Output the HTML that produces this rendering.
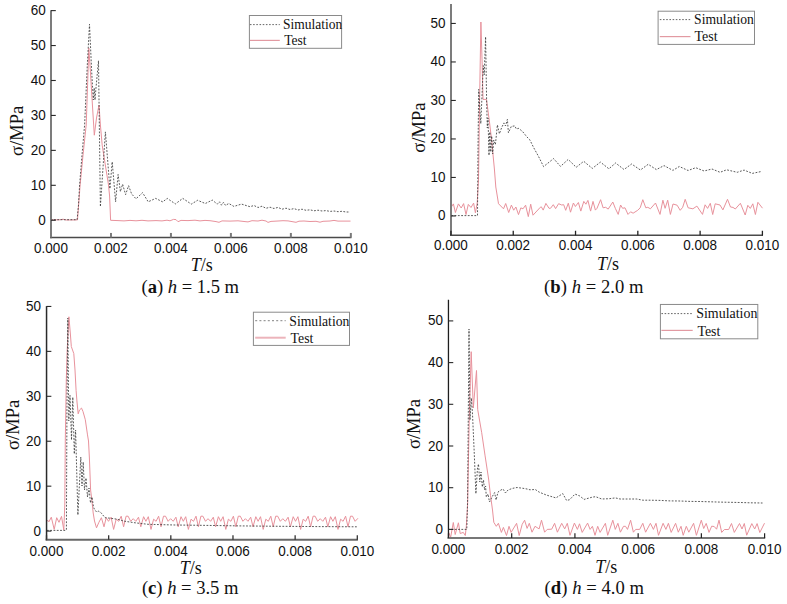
<!DOCTYPE html>
<html><head><meta charset="utf-8"><title>Stress vs time</title>
<style>
html,body{margin:0;padding:0;background:#fff;}
body{width:787px;height:604px;overflow:hidden;}
svg{display:block;}
.tk{font-family:"Liberation Sans",sans-serif;font-size:13.5px;fill:#111;}
.sf{font-family:"Liberation Serif",serif;font-size:18px;fill:#111;}
.cap{font-size:18.6px;}
.yt{font-size:18.5px;}
.lg{font-family:"Liberation Serif",serif;font-size:13.6px;fill:#111;}
</style></head>
<body>
<svg width="787" height="604" viewBox="0 0 787 604">
<rect width="787" height="604" fill="#fff"/>
<g>
<path d="M50.7 219.9 L60 219.8 L63 219.2 L66 220 L77.5 219.9 L78.6 205 L80.1 185 L83 155 L86.2 125 L87.6 85 L88.8 48 L90.3 70 L92.3 103 L94.3 135.2 L96.5 118 L99 105 L100.4 125 L102.2 145.3 L105 163 L108.5 185 L109.6 196 L110.6 220.3 L118 220.6 L124 220.9 L130 220.4 L136 220.8 L142 220.3 L148 220.9 L156 220.6 L162 220.9 L167 220.2 L170 220.8 L173.5 219.4 L176 219.6 L178 221.7 L181 220.4 L188 220.6 L195 220.2 L200 220.9 L205 220.4 L210 220.7 L216 221.6 L219 222.3 L222 220.9 L230 221.1 L238 220.8 L245 221.6 L248 221.9 L252 220.7 L258 221 L262 220.2 L266 221 L268 222.4 L271 221.4 L278 221 L283 220.7 L288 220.9 L292 221.6 L296 222.3 L299 221.2 L304 221 L310 221.5 L316 221.3 L320 222.2 L323 221.3 L330 221 L334 220.4 L338 221.1 L344 221.1 L350.5 221.1" fill="none" stroke="#e8929c" stroke-width="1" stroke-linejoin="round"/>
<path d="M50.7 219.7 L77.1 219.7 L78.5 205 L79.6 185 L82 155 L84.6 125 L87.3 65 L89.5 24.3 L91.6 70 L93.3 100 L94.2 88 L95 100 L95.8 90 L98.5 60.7 L100.4 206.6 L105.4 131.9 L109.9 188.7 L112.2 161.8 L115.6 201.8 L118.1 174.5 L120.4 191.6 L122.6 184.2 L125.6 194.6 L128.6 185.7 L131.6 193.9 L136 198.8 L142.6 192.7 L148.2 201.8 L155.7 198.4 L162.7 201.9 L167.2 198.4 L175.4 203.9 L182.8 198.4 L191.3 204.1 L197.6 200.3 L205.3 203.5 L212.3 200.1 L217.3 204.1 L219.5 201.8 L221.5 205.2 L223.5 202.3 L225.5 205.4 L228.8 203.5 L233.9 206.4 L241.5 204.1 L250 206.7 L254 205.5 L258 207.5 L262 206.2 L266 208.3 L270 207.2 L274 208.5 L278 207.4 L282 209.2 L286 208.2 L290 209.5 L294 208.6 L298 210 L302 209.2 L306 210.3 L310 209.8 L314 210.8 L318 210.2 L322 211 L326 210.6 L330 211.4 L334 211 L338 211.7 L342 211.3 L346 212 L350 212" fill="none" stroke="#3c3c3c" stroke-width="0.85" stroke-dasharray="1.8 1.5"/>
</g>
<line x1="51" y1="10.31" x2="51" y2="238.15" stroke="#7c7c7c" stroke-width="2.0"/>
<line x1="50.1" y1="237.55" x2="351.45" y2="237.55" stroke="#4a4a4a" stroke-width="1.4"/>
<line x1="51" y1="220.25" x2="55.8" y2="220.25" stroke="#2a2a2a" stroke-width="1.1"/>
<text class="tk" text-anchor="end" transform="translate(45.8 224.75) scale(1 1.08)">0</text>
<line x1="51" y1="185.31" x2="55.8" y2="185.31" stroke="#2a2a2a" stroke-width="1.1"/>
<text class="tk" text-anchor="end" transform="translate(45.8 189.81) scale(1 1.08)">10</text>
<line x1="51" y1="150.37" x2="55.8" y2="150.37" stroke="#2a2a2a" stroke-width="1.1"/>
<text class="tk" text-anchor="end" transform="translate(45.8 154.87) scale(1 1.08)">20</text>
<line x1="51" y1="115.43" x2="55.8" y2="115.43" stroke="#2a2a2a" stroke-width="1.1"/>
<text class="tk" text-anchor="end" transform="translate(45.8 119.93) scale(1 1.08)">30</text>
<line x1="51" y1="80.49" x2="55.8" y2="80.49" stroke="#2a2a2a" stroke-width="1.1"/>
<text class="tk" text-anchor="end" transform="translate(45.8 84.99) scale(1 1.08)">40</text>
<line x1="51" y1="45.55" x2="55.8" y2="45.55" stroke="#2a2a2a" stroke-width="1.1"/>
<text class="tk" text-anchor="end" transform="translate(45.8 50.05) scale(1 1.08)">50</text>
<line x1="51" y1="10.61" x2="55.8" y2="10.61" stroke="#2a2a2a" stroke-width="1.1"/>
<text class="tk" text-anchor="end" transform="translate(45.8 15.11) scale(1 1.08)">60</text>
<line x1="51" y1="232.95" x2="51" y2="237.55" stroke="#7a7a7a" stroke-width="2.0"/>
<text class="tk" text-anchor="middle" transform="translate(51 252.8) scale(1 1.08)">0.000</text>
<line x1="110.97" y1="232.95" x2="110.97" y2="237.55" stroke="#7a7a7a" stroke-width="2.0"/>
<text class="tk" text-anchor="middle" transform="translate(110.97 252.8) scale(1 1.08)">0.002</text>
<line x1="170.94" y1="232.95" x2="170.94" y2="237.55" stroke="#7a7a7a" stroke-width="2.0"/>
<text class="tk" text-anchor="middle" transform="translate(170.94 252.8) scale(1 1.08)">0.004</text>
<line x1="230.91" y1="232.95" x2="230.91" y2="237.55" stroke="#7a7a7a" stroke-width="2.0"/>
<text class="tk" text-anchor="middle" transform="translate(230.91 252.8) scale(1 1.08)">0.006</text>
<line x1="290.88" y1="232.95" x2="290.88" y2="237.55" stroke="#7a7a7a" stroke-width="2.0"/>
<text class="tk" text-anchor="middle" transform="translate(290.88 252.8) scale(1 1.08)">0.008</text>
<line x1="350.85" y1="232.95" x2="350.85" y2="237.55" stroke="#7a7a7a" stroke-width="2.0"/>
<text class="tk" text-anchor="middle" transform="translate(350.85 252.8) scale(1 1.08)">0.010</text>
<text class="sf yt" x="0" y="0" text-anchor="middle" transform="translate(22.7 130.9) rotate(-90)">&#963;/MPa</text>
<text class="sf" x="201.8" y="270.9" text-anchor="middle"><tspan font-style="italic">T</tspan>/s</text>
<text class="sf cap" x="190.3" y="292.9" text-anchor="middle" textLength="97.5" lengthAdjust="spacing">(<tspan font-weight="bold">a</tspan>) <tspan font-style="italic">h</tspan> = 1.5 m</text>
<rect x="249.4" y="15.5" width="92.2" height="32.8" fill="#fff" stroke="#8a8a8a" stroke-width="1"/>
<line x1="249.9" y1="24.6" x2="279.8" y2="24.6" stroke="#666" stroke-width="1" stroke-dasharray="1.6 1.6"/>
<line x1="249.9" y1="40.4" x2="279.8" y2="40.4" stroke="#e29aa2" stroke-width="1.2"/>
<text class="lg" x="283.1" y="28.5" textLength="59.2" lengthAdjust="spacingAndGlyphs">Simulation</text>
<text class="lg" x="284.2" y="44.6" textLength="22.4" lengthAdjust="spacingAndGlyphs">Test</text>
<g>
<path d="M451.3 207 L453.4 203.9 L455.4 212.5 L458.4 203.9 L461.2 208 L463.6 203.6 L466 214.5 L468.3 204.4 L471 207.5 L473.6 203.1 L475.4 212.8 L477.2 203 L478.5 180 L479.6 100 L480.9 22 L482.2 65 L483 99.4 L486.5 99.4 L489.6 123 L491.6 140 L494.4 169 L495.8 187 L498.5 203.7 L503.5 208.8 L505.7 203.5 L508.7 212.5 L511.4 205.1 L513.7 210.2 L515.9 207 L518.5 214.6 L520.8 207.9 L523 208.8 L525.6 205.2 L528.3 216.6 L530.7 204.2 L533 215.2 L540.3 207.3 L541.3 206.8 L543.2 210.1 L545.9 203.4 L549 208.3 L550.5 208.3 L553.3 204.7 L555.6 208.6 L558.6 203.7 L561.7 205 L563.7 204.7 L565.7 210.3 L568.3 203.2 L570.5 212.2 L573.4 203 L575.4 206.5 L578.4 202.5 L580.8 211.1 L583.8 201.4 L585.9 204.2 L587.9 200.4 L590.6 211.1 L593 201.4 L595.4 210.1 L597 208.3 L600.6 199.7 L603.1 207.8 L605.7 207.3 L608.2 209.1 L612.8 202 L615.3 208.3 L618.2 214.4 L620.6 205 L622.6 208.3 L625 207.8 L628 214.4 L630.6 211.8 L633.1 213.2 L637.7 210.3 L640.2 207.8 L642.8 199.7 L645.8 207.8 L647.8 207.3 L650.4 208.8 L655.5 203 L660 214.4 L662.9 200.2 L665.1 208.3 L667.7 200.2 L670.4 214.4 L673 204 L677.1 205.2 L680.2 210.3 L682.7 207.3 L685.2 199.3 L688.1 207.8 L692.9 208.8 L696.9 206.1 L702.5 214.4 L705.1 204.8 L707.6 208.4 L710.3 203.3 L712.7 214.5 L715.2 203.8 L720 205 L722.9 209.9 L727.5 199.3 L730.5 207 L733 207.4 L735.3 209 L740.4 203.3 L745.2 215 L747.8 205.3 L750.3 208.4 L752.8 203.8 L755.4 214.5 L757.9 202.3 L762.5 208.2" fill="none" stroke="#e8929c" stroke-width="1" stroke-linejoin="round"/>
<path d="M451.3 215.6 L477.5 215.6 L478 150 L478.7 89.4 L480.8 123.7 L483.3 65.6 L484.2 75 L485.6 36.8 L486.6 99.5 L487.3 128 L488 118 L489 155.4 L489.8 132 L490.8 152 L491.7 136 L492.7 154 L493.7 140 L495.4 144.6 L497.4 124.9 L499.4 133.8 L501.5 128 L503.9 122.9 L505.5 126 L507.4 119.4 L508.4 132.8 L511.3 126.4 L514.8 125.9 L516.3 128.9 L518.8 128.4 L522.8 131.8 L526.8 136.8 L529.8 139.8 L533.7 147.7 L538.6 156.6 L543.6 166.6 L553.6 158.6 L560.5 166.4 L568.2 159.4 L576.2 167.3 L583.7 161.3 L592.3 168.4 L600.4 162.1 L608.9 168.8 L615.6 163 L624 169.5 L631.6 164 L640.4 170 L648.2 164.3 L656.4 169.6 L664 165.6 L672.9 170.4 L679.3 166.5 L688.1 170.5 L695.7 167.7 L704.1 171 L712 169 L720.1 172.3 L726.6 169.8 L737.2 172.3 L744.1 170.1 L752.3 173.4 L761.8 171.4" fill="none" stroke="#3c3c3c" stroke-width="0.85" stroke-dasharray="1.8 1.5"/>
</g>
<line x1="451" y1="3.9" x2="451" y2="235.95" stroke="#7c7c7c" stroke-width="2.0"/>
<line x1="450.1" y1="235.35" x2="763" y2="235.35" stroke="#4a4a4a" stroke-width="1.5"/>
<line x1="451" y1="215.95" x2="455.8" y2="215.95" stroke="#2a2a2a" stroke-width="1.1"/>
<text class="tk" text-anchor="end" transform="translate(445.6 220.45) scale(1 1.08)">0</text>
<line x1="451" y1="177.45" x2="455.8" y2="177.45" stroke="#2a2a2a" stroke-width="1.1"/>
<text class="tk" text-anchor="end" transform="translate(445.6 181.95) scale(1 1.08)">10</text>
<line x1="451" y1="138.95" x2="455.8" y2="138.95" stroke="#2a2a2a" stroke-width="1.1"/>
<text class="tk" text-anchor="end" transform="translate(445.6 143.45) scale(1 1.08)">20</text>
<line x1="451" y1="100.45" x2="455.8" y2="100.45" stroke="#2a2a2a" stroke-width="1.1"/>
<text class="tk" text-anchor="end" transform="translate(445.6 104.95) scale(1 1.08)">30</text>
<line x1="451" y1="61.95" x2="455.8" y2="61.95" stroke="#2a2a2a" stroke-width="1.1"/>
<text class="tk" text-anchor="end" transform="translate(445.6 66.45) scale(1 1.08)">40</text>
<line x1="451" y1="23.45" x2="455.8" y2="23.45" stroke="#2a2a2a" stroke-width="1.1"/>
<text class="tk" text-anchor="end" transform="translate(445.6 27.95) scale(1 1.08)">50</text>
<line x1="450.95" y1="230.75" x2="450.95" y2="235.35" stroke="#222" stroke-width="1.3"/>
<text class="tk" text-anchor="middle" transform="translate(450.95 250.3) scale(1 1.08)">0.000</text>
<line x1="513.24" y1="230.75" x2="513.24" y2="235.35" stroke="#222" stroke-width="1.3"/>
<text class="tk" text-anchor="middle" transform="translate(513.24 250.3) scale(1 1.08)">0.002</text>
<line x1="575.53" y1="230.75" x2="575.53" y2="235.35" stroke="#222" stroke-width="1.3"/>
<text class="tk" text-anchor="middle" transform="translate(575.53 250.3) scale(1 1.08)">0.004</text>
<line x1="637.82" y1="230.75" x2="637.82" y2="235.35" stroke="#222" stroke-width="1.3"/>
<text class="tk" text-anchor="middle" transform="translate(637.82 250.3) scale(1 1.08)">0.006</text>
<line x1="700.11" y1="230.75" x2="700.11" y2="235.35" stroke="#222" stroke-width="1.3"/>
<text class="tk" text-anchor="middle" transform="translate(700.11 250.3) scale(1 1.08)">0.008</text>
<line x1="762.4" y1="230.75" x2="762.4" y2="235.35" stroke="#222" stroke-width="1.3"/>
<text class="tk" text-anchor="middle" transform="translate(762.4 250.3) scale(1 1.08)">0.010</text>
<text class="sf yt" x="0" y="0" text-anchor="middle" transform="translate(424.6 127.6) rotate(-90)">&#963;/MPa</text>
<text class="sf" x="608" y="270" text-anchor="middle"><tspan font-style="italic">T</tspan>/s</text>
<text class="sf cap" x="593.8" y="292.7" text-anchor="middle" textLength="99.4" lengthAdjust="spacing">(<tspan font-weight="bold">b</tspan>) <tspan font-style="italic">h</tspan> = 2.0 m</text>
<rect x="658.1" y="11.2" width="96.4" height="33.2" fill="#fff" stroke="#8a8a8a" stroke-width="1"/>
<line x1="659.8" y1="19.6" x2="690.5" y2="19.6" stroke="#666" stroke-width="1" stroke-dasharray="1.6 1.6"/>
<line x1="659.8" y1="36.6" x2="690.5" y2="36.6" stroke="#e29aa2" stroke-width="1.2"/>
<text class="lg" x="694.1" y="24.3" textLength="59.8" lengthAdjust="spacingAndGlyphs">Simulation</text>
<text class="lg" x="694.5" y="40.9" textLength="23.2" lengthAdjust="spacingAndGlyphs">Test</text>
<g>
<path d="M46.9 521.5 L47.6 520.2 L48.9 521.8 L51.3 517.2 L54.2 529.4 L56.7 517.7 L59 522.3 L61.5 516.4 L63.8 529.9 L64.8 505 L65.3 440 L66.3 380 L67.2 350 L68.9 316.8 L70.3 333 L71.3 346.5 L73.8 353.6 L75 370 L76.1 390.6 L77 402 L78.2 413.8 L79.5 410 L81.5 408.1 L83 411.5 L85.3 419.7 L87.5 434.9 L88.5 441 L89.4 458 L90.6 490 L91.7 498.6 L93.2 513 L94.5 521 L96.5 527.8 L98.9 522.3 L101.4 517.7 L104 526.8 L106.2 517.7 L108.5 521.3 L111.1 517.2 L113.6 529.4 L116.2 519.2 L118.7 521.3 L121.2 516.2 L123.6 526.8 L126.1 516.2 L128.1 516.2 L130.7 521.3 L133.2 518.7 L135.8 521.3 L138.5 517.2 L140.8 526.8 L143.6 516.7 L145.9 521.3 L148.3 516.7 L151 529.4 L153.6 519.2 L156.1 521.3 L158.6 516.2 L161 526.8 L163.5 516.2 L165.5 516.2 L168.1 521.3 L170.6 518.7 L173.2 521.3 L175.9 517.2 L178.2 526.8 L181 516.7 L183.3 521.3 L185.7 516.7 L188.4 529.4 L191 519.2 L193.5 521.3 L196 516.2 L198.4 526.8 L200.9 516.2 L202.9 516.2 L205.5 521.3 L208 518.7 L210.6 521.3 L213.3 517.2 L215.6 526.8 L218.4 516.7 L220.7 521.3 L223.1 516.7 L225.8 529.4 L228.4 519.2 L230.9 521.3 L233.4 516.2 L235.8 526.8 L238.3 516.2 L240.3 516.2 L242.9 521.3 L245.4 518.7 L248 521.3 L250.7 517.2 L253 526.8 L255.8 516.7 L258.1 521.3 L260.5 516.7 L263.2 529.4 L265.8 519.2 L268.3 521.3 L270.8 516.2 L273.2 526.8 L275.7 516.2 L277.7 516.2 L280.3 521.3 L282.8 518.7 L285.4 521.3 L288.1 517.2 L290.4 526.8 L293.2 516.7 L295.5 521.3 L297.9 516.7 L300.6 529.4 L303.2 519.2 L305.7 521.3 L308.2 516.2 L310.6 526.8 L313.1 516.2 L315.1 516.2 L317.7 521.3 L320.2 518.7 L322.8 521.3 L325.5 517.2 L327.8 526.8 L330.6 516.7 L332.9 521.3 L335.3 516.7 L338 529.4 L340.6 519.2 L343.1 521.3 L345.6 516.2 L348 526.8 L350.5 516.2 L352.5 516.2 L355.1 521.3 L357.6 518.7 L357.7 518.2" fill="none" stroke="#e8929c" stroke-width="1" stroke-linejoin="round"/>
<path d="M46.9 530.4 L65.8 530.4 L66.4 529.7 L66.9 420 L67.8 318 L68.8 421 L70 395.4 L71.5 440 L72.8 397.2 L74.3 454 L75.6 430 L77.9 515 L80.8 457 L82 486 L83.2 462 L84.5 490 L86 478 L87.5 497 L89 488 L90.5 503 L92 497 L93.5 507 L94.3 509 L96.6 512.1 L98.5 511.2 L100.9 512.6 L105 517.7 L110 518.2 L117.2 519.2 L125 521.3 L135 522.8 L148 524.3 L175 525 L200 525.3 L240 525.9 L280 526.3 L320 526.6 L357 526.8" fill="none" stroke="#3c3c3c" stroke-width="0.85" stroke-dasharray="1.8 1.5"/>
</g>
<line x1="46.55" y1="306.15" x2="46.55" y2="540.4" stroke="#2a2a2a" stroke-width="1.5"/>
<line x1="45.65" y1="539.8" x2="357.9" y2="539.8" stroke="#686868" stroke-width="1.9"/>
<line x1="46.55" y1="531.1" x2="51.35" y2="531.1" stroke="#2a2a2a" stroke-width="1.1"/>
<text class="tk" text-anchor="end" transform="translate(41.1 535.6) scale(1 1.08)">0</text>
<line x1="46.55" y1="486.17" x2="51.35" y2="486.17" stroke="#2a2a2a" stroke-width="1.1"/>
<text class="tk" text-anchor="end" transform="translate(41.1 490.67) scale(1 1.08)">10</text>
<line x1="46.55" y1="441.24" x2="51.35" y2="441.24" stroke="#2a2a2a" stroke-width="1.1"/>
<text class="tk" text-anchor="end" transform="translate(41.1 445.74) scale(1 1.08)">20</text>
<line x1="46.55" y1="396.31" x2="51.35" y2="396.31" stroke="#2a2a2a" stroke-width="1.1"/>
<text class="tk" text-anchor="end" transform="translate(41.1 400.81) scale(1 1.08)">30</text>
<line x1="46.55" y1="351.38" x2="51.35" y2="351.38" stroke="#2a2a2a" stroke-width="1.1"/>
<text class="tk" text-anchor="end" transform="translate(41.1 355.88) scale(1 1.08)">40</text>
<line x1="46.55" y1="306.45" x2="51.35" y2="306.45" stroke="#2a2a2a" stroke-width="1.1"/>
<text class="tk" text-anchor="end" transform="translate(41.1 310.95) scale(1 1.08)">50</text>
<line x1="46.5" y1="535.2" x2="46.5" y2="539.8" stroke="#333" stroke-width="1.3"/>
<text class="tk" text-anchor="middle" transform="translate(46.5 555.6) scale(1 1.08)">0.000</text>
<line x1="108.66" y1="535.2" x2="108.66" y2="539.8" stroke="#333" stroke-width="1.3"/>
<text class="tk" text-anchor="middle" transform="translate(108.66 555.6) scale(1 1.08)">0.002</text>
<line x1="170.82" y1="535.2" x2="170.82" y2="539.8" stroke="#333" stroke-width="1.3"/>
<text class="tk" text-anchor="middle" transform="translate(170.82 555.6) scale(1 1.08)">0.004</text>
<line x1="232.98" y1="535.2" x2="232.98" y2="539.8" stroke="#333" stroke-width="1.3"/>
<text class="tk" text-anchor="middle" transform="translate(232.98 555.6) scale(1 1.08)">0.006</text>
<line x1="295.14" y1="535.2" x2="295.14" y2="539.8" stroke="#333" stroke-width="1.3"/>
<text class="tk" text-anchor="middle" transform="translate(295.14 555.6) scale(1 1.08)">0.008</text>
<line x1="357.3" y1="535.2" x2="357.3" y2="539.8" stroke="#333" stroke-width="1.3"/>
<text class="tk" text-anchor="middle" transform="translate(357.3 555.6) scale(1 1.08)">0.010</text>
<text class="sf yt" x="0" y="0" text-anchor="middle" transform="translate(19.3 424.85) rotate(-90)">&#963;/MPa</text>
<text class="sf" x="190.7" y="573.7" text-anchor="middle"><tspan font-style="italic">T</tspan>/s</text>
<text class="sf cap" x="190.2" y="594.4" text-anchor="middle" textLength="96.6" lengthAdjust="spacing">(<tspan font-weight="bold">c</tspan>) <tspan font-style="italic">h</tspan> = 3.5 m</text>
<rect x="253.4" y="312.2" width="96.1" height="33.2" fill="#fff" stroke="#8a8a8a" stroke-width="1"/>
<line x1="255.2" y1="320.6" x2="285.7" y2="320.6" stroke="#9a9a9a" stroke-width="1.2" stroke-dasharray="2 2.2"/>
<line x1="255.2" y1="337.7" x2="285.7" y2="337.7" stroke="#ecb4bb" stroke-width="2"/>
<text class="lg" x="289.3" y="326" textLength="60.1" lengthAdjust="spacingAndGlyphs">Simulation</text>
<text class="lg" x="290.6" y="342.5" textLength="22.8" lengthAdjust="spacingAndGlyphs">Test</text>
<g>
<path d="M448.8 532.4 L450.6 537.5 L453.3 522.5 L455.2 534.5 L458.4 522.8 L460.2 533.5 L463.3 532.4 L465.3 535.5 L466.3 526.3 L467.6 505 L469.2 420 L471.2 351.7 L473.3 408 L476.5 370.5 L477.7 409.5 L481.7 432.7 L485.1 455.9 L488.6 479 L490.5 495.4 L492.5 510 L493.8 522.3 L496.3 526.3 L498.4 523.3 L501.4 532.4 L503.4 527.4 L506.5 535.5 L509 526.3 L511.1 532.4 L516.6 523.3 L519.2 535.5 L522.2 524.3 L524.6 520.2 L527.1 528.4 L529.3 523.3 L532 532.2 L535 526.3 L539.1 528.9 L541.5 520.2 L544.6 532.2 L547.2 529.4 L551.7 529.2 L554.6 523.3 L557.4 532.2 L561.7 523.3 L564.7 528.9 L567.3 523.3 L570 535.3 L574.4 523.1 L577.4 529.4 L579.5 523.8 L582.2 532.4 L587.6 523.1 L590.1 529.4 L592.4 526.3 L595 535.3 L597.7 526.3 L600.1 532.4 L605.4 523.3 L607.7 535.3 L612.8 520.2 L615.3 529.4 L617.9 523.3 L620.4 532.2 L623.5 526.3 L625.5 526.3 L627.5 529.4 L630.6 520.2 L633.4 532.2 L635.7 529.4 L639.7 529.4 L642.8 523.3 L645.6 532.2 L650.4 523.3 L653.4 529.4 L656 523.3 L658.5 535.3 L663.1 523.3 L665.9 529.4 L668.4 523.3 L671.2 532.4 L675.6 523.3 L678.3 532.2 L681 526.3 L683.2 535.3 L686.3 526.3 L688.8 532.2 L693.6 523.3 L696.4 535.3 L701.3 520.2 L703.7 528.5 L706.2 523.4 L709 532.4 L711.7 526.2 L714.2 526.5 L716.6 529.2 L719 520.2 L721.7 532.4 L724.4 529.5 L728.7 529.5 L731.5 523.5 L734.3 532.4 L739.5 523.5 L742 529 L744.3 523.5 L746.7 535.2 L751.8 523.6 L754.7 529 L757.1 523.6 L759.8 532.5 L764.5 523.2" fill="none" stroke="#e8929c" stroke-width="1" stroke-linejoin="round"/>
<path d="M448.2 529.4 L466.8 529.4 L467.6 500 L469 329 L470 420 L471.3 398 L472.4 412 L474.2 452 L475.9 493.7 L477.5 468 L478.5 464 L479.8 482 L481 472 L482.3 487 L483.5 480 L484.6 490 L485.6 486 L486.3 497 L488 494 L489.5 502 L492 497 L494.6 492.6 L496.1 500 L498 492 L501 490 L503 489 L505.5 493 L508 490 L512.8 488.3 L517 487.5 L523 488.3 L527 489 L530 489.8 L535.3 489.5 L539.1 492.1 L546.8 495.2 L555.9 497.9 L562.8 493.6 L566.6 500.5 L569.6 499.7 L575 494.1 L579.6 495.9 L584.1 499.4 L592.5 497.1 L595.6 496.7 L601.7 499 L609.3 498.7 L615.4 497.9 L620 499 L629.1 499 L636.7 499 L642.8 500.2 L650 500.2 L660 500.4 L670 500.9 L680 501 L690 501.4 L700 501.5 L710 501.8 L720 502.1 L730 502.3 L740 502.5 L750 502.8 L762.5 503" fill="none" stroke="#3c3c3c" stroke-width="0.85" stroke-dasharray="1.8 1.5"/>
</g>
<line x1="448.45" y1="299.75" x2="448.45" y2="538.55" stroke="#1e1e1e" stroke-width="1.3"/>
<line x1="447.55" y1="537.95" x2="765.2" y2="537.95" stroke="#777" stroke-width="2.0"/>
<line x1="448.45" y1="529.4" x2="453.25" y2="529.4" stroke="#2a2a2a" stroke-width="1.1"/>
<text class="tk" text-anchor="end" transform="translate(443 533.9) scale(1 1.08)">0</text>
<line x1="448.45" y1="487.7" x2="453.25" y2="487.7" stroke="#2a2a2a" stroke-width="1.1"/>
<text class="tk" text-anchor="end" transform="translate(443 492.2) scale(1 1.08)">10</text>
<line x1="448.45" y1="446" x2="453.25" y2="446" stroke="#2a2a2a" stroke-width="1.1"/>
<text class="tk" text-anchor="end" transform="translate(443 450.5) scale(1 1.08)">20</text>
<line x1="448.45" y1="404.3" x2="453.25" y2="404.3" stroke="#2a2a2a" stroke-width="1.1"/>
<text class="tk" text-anchor="end" transform="translate(443 408.8) scale(1 1.08)">30</text>
<line x1="448.45" y1="362.6" x2="453.25" y2="362.6" stroke="#2a2a2a" stroke-width="1.1"/>
<text class="tk" text-anchor="end" transform="translate(443 367.1) scale(1 1.08)">40</text>
<line x1="448.45" y1="320.9" x2="453.25" y2="320.9" stroke="#2a2a2a" stroke-width="1.1"/>
<text class="tk" text-anchor="end" transform="translate(443 325.4) scale(1 1.08)">50</text>
<line x1="448.47" y1="533.35" x2="448.47" y2="537.95" stroke="#222" stroke-width="1.2"/>
<text class="tk" text-anchor="middle" transform="translate(448.47 554.2) scale(1 1.08)">0.000</text>
<line x1="511.7" y1="533.35" x2="511.7" y2="537.95" stroke="#222" stroke-width="1.2"/>
<text class="tk" text-anchor="middle" transform="translate(511.7 554.2) scale(1 1.08)">0.002</text>
<line x1="574.92" y1="533.35" x2="574.92" y2="537.95" stroke="#222" stroke-width="1.2"/>
<text class="tk" text-anchor="middle" transform="translate(574.92 554.2) scale(1 1.08)">0.004</text>
<line x1="638.15" y1="533.35" x2="638.15" y2="537.95" stroke="#222" stroke-width="1.2"/>
<text class="tk" text-anchor="middle" transform="translate(638.15 554.2) scale(1 1.08)">0.006</text>
<line x1="701.37" y1="533.35" x2="701.37" y2="537.95" stroke="#222" stroke-width="1.2"/>
<text class="tk" text-anchor="middle" transform="translate(701.37 554.2) scale(1 1.08)">0.008</text>
<line x1="764.6" y1="533.35" x2="764.6" y2="537.95" stroke="#222" stroke-width="1.2"/>
<text class="tk" text-anchor="middle" transform="translate(764.6 554.2) scale(1 1.08)">0.010</text>
<text class="sf yt" x="0" y="0" text-anchor="middle" transform="translate(420.4 424) rotate(-90)">&#963;/MPa</text>
<text class="sf" x="606.2" y="573.2" text-anchor="middle"><tspan font-style="italic">T</tspan>/s</text>
<text class="sf cap" x="594.3" y="594.2" text-anchor="middle" textLength="99.5" lengthAdjust="spacing">(<tspan font-weight="bold">d</tspan>) <tspan font-style="italic">h</tspan> = 4.0 m</text>
<rect x="660.4" y="304.45" width="97.4" height="34.35" fill="#fff" stroke="#8a8a8a" stroke-width="1"/>
<line x1="661.4" y1="313.6" x2="692.7" y2="313.6" stroke="#666" stroke-width="1" stroke-dasharray="1.6 1.6"/>
<line x1="661.4" y1="330.4" x2="692.7" y2="330.4" stroke="#e29aa2" stroke-width="1.2"/>
<text class="lg" x="696.2" y="317.9" textLength="61.2" lengthAdjust="spacingAndGlyphs">Simulation</text>
<text class="lg" x="697.4" y="336.2" textLength="23" lengthAdjust="spacingAndGlyphs">Test</text>
</svg>
</body></html>
